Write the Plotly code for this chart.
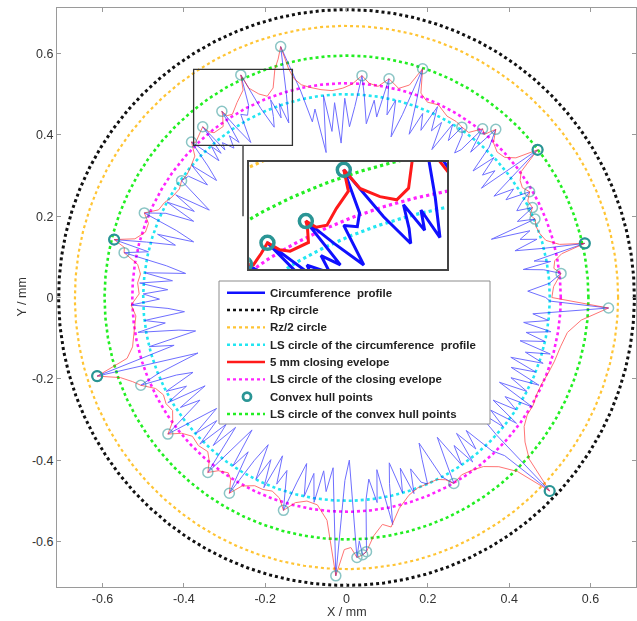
import numpy as np
import plotly.graph_objects as go

# ---------------- data (mm) ----------------
rp_radius = 0.708
rz2_radius = 0.668
ls_profile_radius = 0.500
ls_envelope_radius = 0.527
ls_hull_radius = 0.595

profile_angle_deg = [
    0, 2, 4, 6.4, 8, 9, 10, 11, 12.8, 14, 15.5, 17, 18.5, 20, 21.9, 22.6, 24, 25.8, 27, 28.5,
    30, 31.5, 33, 34.5, 36, 37.7, 39, 40.5, 42, 43.5, 45, 46.5, 48.4, 49.5, 51.1, 52.2, 53.2, 54.5,
    55.9, 57, 58.5, 60, 61.5, 63, 64.5, 66, 67.5, 69, 70.5, 71.6, 73, 74.5, 76, 77.5, 79, 80.5, 82,
    83.5, 85, 86, 87.5, 89, 90.5, 92, 93.5, 95, 96.5, 98, 99.5, 101, 102.5, 104.7, 106.5, 108.3,
    109.1, 110, 111, 112, 113, 113.8, 114.4, 115.4, 117, 118.5, 120, 121.7, 123, 123.8, 124.7,
    125.9, 127, 128.7, 129.5, 130.1, 131, 131.8, 133, 134.9, 136.5, 138, 139.5, 141, 142.5, 144.7,
    146, 147.5, 149, 150.5, 152, 153.5, 155, 157.3, 158.5, 160, 161.5, 163, 164.5, 166, 167, 168.6,
    170, 171.5, 173, 174.5, 176, 177.5, 179, 180.5, 182, 183.5, 185, 186.5, 188, 189.5, 191, 192.5,
    194, 195.5, 197.5, 199, 200.5, 202, 203.1, 204.5, 206, 207.5, 209, 210.5, 212, 213.5, 215,
    217.4, 219, 220.5, 222, 223.5, 225, 226.5, 228, 229.5, 231.6, 233, 234.5, 236, 237.5, 239.1,
    240.5, 242, 243.5, 245, 246.5, 248, 249.5, 251, 253.5, 255, 256.5, 258, 259.5, 261, 262.5,
    264, 265.5, 267.8, 269.5, 271, 272.3, 273, 273.6, 274.5, 275.5, 277, 278.5, 280, 281.5, 283,
    284.5, 286, 287.5, 289, 290.5, 292, 293.5, 295, 296.5, 298, 300, 301.5, 303, 304.5, 306,
    307.5, 309, 310.5, 312, 313.5, 315, 316.4, 317.5, 319, 320.5, 322, 323.5, 325, 326.5, 328,
    329.5, 331, 332.5, 334, 335.5, 337, 338.5, 340, 341.5, 343, 344.5, 346, 347.5, 349, 350.5,
    352, 353.5, 355, 357.7, 359]
profile_radius = [
    0.49, 0.446, 0.50, 0.531, 0.49, 0.44, 0.51, 0.47, 0.601, 0.50, 0.43, 0.49, 0.45, 0.48, 0.384,
    0.502, 0.46, 0.508, 0.47, 0.49, 0.52, 0.46, 0.49, 0.44, 0.50, 0.594, 0.427, 0.48, 0.45, 0.50,
    0.44, 0.51, 0.553, 0.47, 0.533, 0.46, 0.444, 0.49, 0.506, 0.46, 0.50, 0.42, 0.49, 0.46, 0.52,
    0.45, 0.49, 0.43, 0.52, 0.593, 0.47, 0.41, 0.50, 0.46, 0.548, 0.45, 0.49, 0.43, 0.50, 0.547,
    0.47, 0.42, 0.49, 0.38, 0.48, 0.41, 0.50, 0.36, 0.47, 0.44, 0.52, 0.638, 0.52, 0.452, 0.505,
    0.47, 0.521, 0.48, 0.455, 0.483, 0.511, 0.606, 0.53, 0.51, 0.52, 0.448, 0.50, 0.551, 0.464,
    0.491, 0.46, 0.488, 0.47, 0.549, 0.47, 0.498, 0.46, 0.54, 0.47, 0.43, 0.50, 0.44, 0.49, 0.497,
    0.45, 0.40, 0.49, 0.43, 0.50, 0.42, 0.49, 0.539, 0.45, 0.40, 0.49, 0.44, 0.51, 0.589, 0.50,
    0.558, 0.45, 0.40, 0.50, 0.43, 0.51, 0.44, 0.50, 0.46, 0.53, 0.44, 0.40, 0.50, 0.45, 0.52,
    0.42, 0.38, 0.50, 0.44, 0.643, 0.48, 0.39, 0.50, 0.55, 0.46, 0.42, 0.50, 0.45, 0.51, 0.41,
    0.49, 0.44, 0.553, 0.47, 0.42, 0.50, 0.44, 0.51, 0.43, 0.49, 0.42, 0.549, 0.46, 0.40, 0.50,
    0.45, 0.561, 0.46, 0.41, 0.50, 0.44, 0.51, 0.42, 0.49, 0.45, 0.546, 0.47, 0.42, 0.50, 0.44,
    0.51, 0.43, 0.48, 0.42, 0.685, 0.45, 0.40, 0.64, 0.60, 0.634, 0.627, 0.50, 0.45, 0.51, 0.43,
    0.57, 0.47, 0.42, 0.50, 0.44, 0.51, 0.45, 0.49, 0.50, 0.44, 0.40, 0.50, 0.528, 0.46, 0.41,
    0.50, 0.45, 0.51, 0.43, 0.49, 0.44, 0.52, 0.55, 0.69, 0.50, 0.42, 0.50, 0.45, 0.52, 0.44,
    0.50, 0.46, 0.53, 0.43, 0.50, 0.45, 0.52, 0.44, 0.50, 0.43, 0.51, 0.46, 0.52, 0.44, 0.50,
    0.45, 0.51, 0.44, 0.50, 0.46, 0.645, 0.50]

envelope_angle_deg = [
    0, 3, 6.4, 8, 10, 11.5, 12.8, 14, 16, 18.5, 20.5, 22.6, 24.2, 25.8, 28, 30, 32, 34, 35.8, 37.7,
    39.5, 41.5, 44, 46.5, 48.4, 49.8, 51.1, 53.5, 55.9, 58, 61, 64.5, 67.5, 70, 71.6, 73.5, 76, 79,
    81.5, 84, 86, 88.5, 91, 94, 97, 100, 102, 103.5, 104.2, 104.7, 106, 107.4, 109.3, 111.5, 113.3,
    115.0, 115.4, 116.5, 119.3, 121.9, 123.3, 123.8, 124.2, 125.8, 128.8, 129.7, 130.1, 132, 134.2,
    134.9, 137, 140, 142.5, 144.7, 147, 150, 152.5, 155, 157.3, 159.5, 162, 164.5, 166, 167.3,
    168.6, 171, 173.5, 176, 179, 182, 185, 189.5, 193, 195.5, 197.5, 199.5, 201.5, 203.1, 205.5,
    208, 210.5, 213, 215.5, 217.4, 219.5, 222, 225, 228, 230, 231.6, 233.5, 236, 237.5, 239.1, 241,
    244, 246.5, 249, 251.5, 253.5, 256, 259, 262, 265, 267.8, 269.5, 271, 272.3, 273.6, 274.5,
    276.5, 279, 281, 284, 287.5, 290.5, 293.5, 296.5, 298.5, 300, 303, 306, 309, 312, 314.5, 316.4,
    318.5, 321, 324, 327, 330, 333, 336, 339.5, 343, 347, 351, 354.5, 357.7]
envelope_radius = [
    0.505, 0.51, 0.531, 0.515, 0.52, 0.54, 0.601, 0.54, 0.51, 0.50, 0.498, 0.502, 0.495, 0.508,
    0.505, 0.52, 0.51, 0.515, 0.53, 0.594, 0.54, 0.52, 0.515, 0.525, 0.553, 0.525, 0.533, 0.505,
    0.506, 0.51, 0.51, 0.525, 0.52, 0.535, 0.593, 0.545, 0.53, 0.548, 0.525, 0.53, 0.547, 0.525,
    0.515, 0.51, 0.515, 0.525, 0.535, 0.554, 0.58, 0.638, 0.61, 0.589, 0.546, 0.532, 0.545,
    0.568, 0.606, 0.57, 0.55, 0.531, 0.535, 0.551, 0.542, 0.5185, 0.52, 0.53, 0.549, 0.54, 0.532,
    0.54, 0.51, 0.50, 0.495, 0.497, 0.49, 0.495, 0.505, 0.51, 0.539, 0.52, 0.52, 0.54, 0.589,
    0.56, 0.558, 0.52, 0.51, 0.515, 0.51, 0.53, 0.52, 0.53, 0.54, 0.56, 0.643, 0.59, 0.565, 0.55,
    0.52, 0.51, 0.515, 0.51, 0.525, 0.553, 0.525, 0.51, 0.515, 0.51, 0.525, 0.549, 0.53, 0.52,
    0.53, 0.561, 0.53, 0.515, 0.515, 0.51, 0.52, 0.546, 0.52, 0.51, 0.515, 0.55, 0.685, 0.62,
    0.615, 0.64, 0.634, 0.627, 0.59, 0.565, 0.575, 0.535, 0.51, 0.50, 0.50, 0.50, 0.51, 0.528,
    0.52, 0.525, 0.535, 0.56, 0.60, 0.69, 0.60, 0.565, 0.54, 0.53, 0.53, 0.525, 0.525, 0.53,
    0.535, 0.54, 0.55, 0.58, 0.645]

hull_angle_deg = [6.4, 12.8, 22.6, 25.8, 30, 37.7, 48.4, 51.1, 55.9, 71.6, 79, 86, 104.7, 115.4,
                  123.8, 130.1, 134.9, 144.7, 157.3, 166, 168.6, 197.5, 203.1, 217.4, 231.6,
                  239.1, 253.5, 267.8, 272.3, 273.6, 274.5, 300, 316.4, 357.7]
hull_radius = [0.531, 0.601, 0.502, 0.508, 0.52, 0.594, 0.553, 0.533, 0.506, 0.593, 0.548, 0.547,
               0.638, 0.606, 0.551, 0.549, 0.54, 0.497, 0.539, 0.589, 0.558, 0.643, 0.55, 0.553,
               0.549, 0.561, 0.546, 0.685, 0.64, 0.634, 0.627, 0.528, 0.69, 0.645]
hull_dark_angle_deg = [12.8, 37.7, 166, 197.5, 316.4]
hull_dark_radius = [0.601, 0.594, 0.589, 0.643, 0.69]

zoom_x_range = [-0.376, -0.133]
zoom_y_range = [0.374, 0.561]

legend_labels = ["Circumference\u00a0 profile", "Rp circle", "Rz/2 circle",
                 "LS circle of the circumference\u00a0 profile", "5 mm closing evelope",
                 "LS circle of the closing evelope", "Convex hull points",
                 "LS circle of the convex hull points"]

# ---------------- helpers ----------------
def polar_to_xy(ang_deg, rad, close=False):
    a = np.deg2rad(np.asarray(ang_deg, dtype=float))
    r = np.asarray(rad, dtype=float)
    x, y = r * np.cos(a), r * np.sin(a)
    if close:
        x, y = np.append(x, x[0]), np.append(y, y[0])
    return x, y

theta = np.linspace(0, 2 * np.pi, 721)
def circle(r):
    return r * np.cos(theta), r * np.sin(theta)

px, py = polar_to_xy(profile_angle_deg, profile_radius, close=True)
ex, ey = polar_to_xy(envelope_angle_deg, envelope_radius, close=True)
hx, hy = polar_to_xy(hull_angle_deg, hull_radius)
hdx, hdy = polar_to_xy(hull_dark_angle_deg, hull_dark_radius)

BLUE = "#1010ff"
RED = "#ff1a1a"
TEAL = "#2a9595"
BLACK = "#111111"
ORANGE = "#ffc433"
CYAN = "#22e6f2"
MAGENTA = "#ff22ff"
GREEN = "#22ee22"

fig = go.Figure()

circles = [
    (rp_radius, BLACK, 3.0),
    (rz2_radius, ORANGE, 2.2),
    (ls_profile_radius, CYAN, 2.6),
    (ls_envelope_radius, MAGENTA, 2.6),
    (ls_hull_radius, GREEN, 2.6),
]

for big in (False, True):
    xa, ya = ("x2", "y2") if big else ("x", "y")
    for r, col, w in circles:
        cx, cy = circle(r)
        fig.add_trace(go.Scatter(x=cx, y=cy, mode="lines",
                                 line=dict(color=col, width=(3.2 if big else w), dash="dot"),
                                 xaxis=xa, yaxis=ya, hoverinfo="skip"))
    fig.add_trace(go.Scatter(x=px, y=py, mode="lines", opacity=(1 if big else 0.6),
                             line=dict(color=BLUE, width=(3 if big else 1)),
                             xaxis=xa, yaxis=ya, hoverinfo="skip"))
    fig.add_trace(go.Scatter(x=ex, y=ey, mode="lines", opacity=(1 if big else 0.6),
                             line=dict(color=RED, width=(3 if big else 1)),
                             xaxis=xa, yaxis=ya, hoverinfo="skip"))
    fig.add_trace(go.Scatter(x=hx, y=hy, mode="markers", opacity=(1 if big else 0.55),
                             marker=dict(symbol="circle-open", size=(13 if big else 10),
                                         color=TEAL, line=dict(width=(3.5 if big else 1.5), color=TEAL)),
                             xaxis=xa, yaxis=ya, hoverinfo="skip"))
    if not big:
        fig.add_trace(go.Scatter(x=hdx, y=hdy, mode="markers",
                                 marker=dict(symbol="circle-open", size=10, color=TEAL,
                                             line=dict(width=2.2, color=TEAL)),
                                 xaxis=xa, yaxis=ya, hoverinfo="skip"))

# zoom box and connector on the main axes
fig.add_shape(type="rect", xref="x", yref="y", x0=zoom_x_range[0], x1=zoom_x_range[1],
              y0=zoom_y_range[0], y1=zoom_y_range[1], line=dict(color="#333333", width=1.3))
mid_x = (zoom_x_range[0] + zoom_x_range[1]) / 2
fig.add_shape(type="line", xref="x", yref="y", x0=mid_x, x1=mid_x, y0=zoom_y_range[0], y1=0.2,
              line=dict(color="#555555", width=1.6))

# ---------------- legend box (drawn in paper space) ----------------
PLOT_L, PLOT_T, PLOT_W, PLOT_H = 57, 8, 579, 579
def pxp(xpix):
    return (xpix - PLOT_L) / PLOT_W
def pyp(ypix):
    return (PLOT_T + PLOT_H - ypix) / PLOT_H

fig.add_shape(type="rect", xref="paper", yref="paper", x0=pxp(219), x1=pxp(490),
              y0=pyp(424), y1=pyp(281), fillcolor="white",
              line=dict(color="#8c8c8c", width=1), layer="above")
legend_styles = [
    ("line", BLUE, "solid", 2.6), ("line", BLACK, "dot", 2.6), ("line", ORANGE, "dot", 2.2),
    ("line", CYAN, "dot", 2.4), ("line", RED, "solid", 2.6), ("line", MAGENTA, "dot", 2.4),
    ("marker", TEAL, None, 2.8), ("line", GREEN, "dot", 2.4)]
for i, (label, (kind, col, dash, w)) in enumerate(zip(legend_labels, legend_styles)):
    yc = 292.7 + 17.33 * i
    if kind == "line":
        fig.add_shape(type="line", xref="paper", yref="paper", x0=pxp(227), x1=pxp(265),
                      y0=pyp(yc), y1=pyp(yc), line=dict(color=col, width=w, dash=dash),
                      layer="above")
    else:
        fig.add_shape(type="circle", xref="paper", yref="paper", xsizemode="pixel",
                      ysizemode="pixel", xanchor=pxp(247), yanchor=pyp(yc),
                      x0=-4, x1=4, y0=-4, y1=4, line=dict(color=col, width=w), layer="above")
    fig.add_annotation(xref="paper", yref="paper", x=pxp(268), y=pyp(yc), xanchor="left",
                       yanchor="middle", showarrow=False, text="<b>" + label + "</b>",
                       font=dict(family="Liberation Sans", size=11.5, color="#222222"))

# axis titles
fig.add_annotation(xref="paper", yref="paper", x=0.5, y=pyp(612), xanchor="center",
                   yanchor="middle", showarrow=False, text="X / mm",
                   font=dict(family="Liberation Sans", size=12.5, color="#333333"))
fig.add_annotation(xref="paper", yref="paper", x=pxp(21), y=0.5, xanchor="center",
                   yanchor="middle", showarrow=False, text="Y / mm", textangle=-90,
                   font=dict(family="Liberation Sans", size=12.5, color="#333333"))

axis_common = dict(showgrid=False, zeroline=False, showline=True, mirror="ticks",
                   linecolor="#9a9a9a", linewidth=1, ticks="inside", ticklen=4,
                   tickcolor="#9a9a9a", tickfont=dict(family="Liberation Sans", size=12.5, color="#333333"),
                   tickvals=[-0.6, -0.4, -0.2, 0, 0.2, 0.4, 0.6],
                   ticktext=["-0.6", "-0.4", "-0.2", "0", "0.2", "0.4", "0.6"])

fig.update_layout(
    width=637, height=621,
    margin=dict(l=PLOT_L, r=637 - PLOT_L - PLOT_W, t=PLOT_T, b=621 - PLOT_T - PLOT_H),
    paper_bgcolor="white", plot_bgcolor="white",
    showlegend=False,
    xaxis=dict(range=[-0.712, 0.712], domain=[0, 1], **axis_common),
    yaxis=dict(range=[-0.712, 0.712], domain=[0, 1], **axis_common),
    xaxis2=dict(domain=[0.332, 0.674], anchor="y2", range=zoom_x_range, showgrid=False,
                zeroline=False, showline=True, mirror=True, linecolor="#444444", linewidth=2,
                showticklabels=False, ticks=""),
    yaxis2=dict(domain=[0.549, 0.734], anchor="x2", range=zoom_y_range, showgrid=False,
                zeroline=False, showline=True, mirror=True, linecolor="#444444", linewidth=2,
                showticklabels=False, ticks=""),
)

fig.write_html("out.html", config={"displayModeBar": False},
               post_script="document.body.style.margin='0';document.body.style.padding='0';")
